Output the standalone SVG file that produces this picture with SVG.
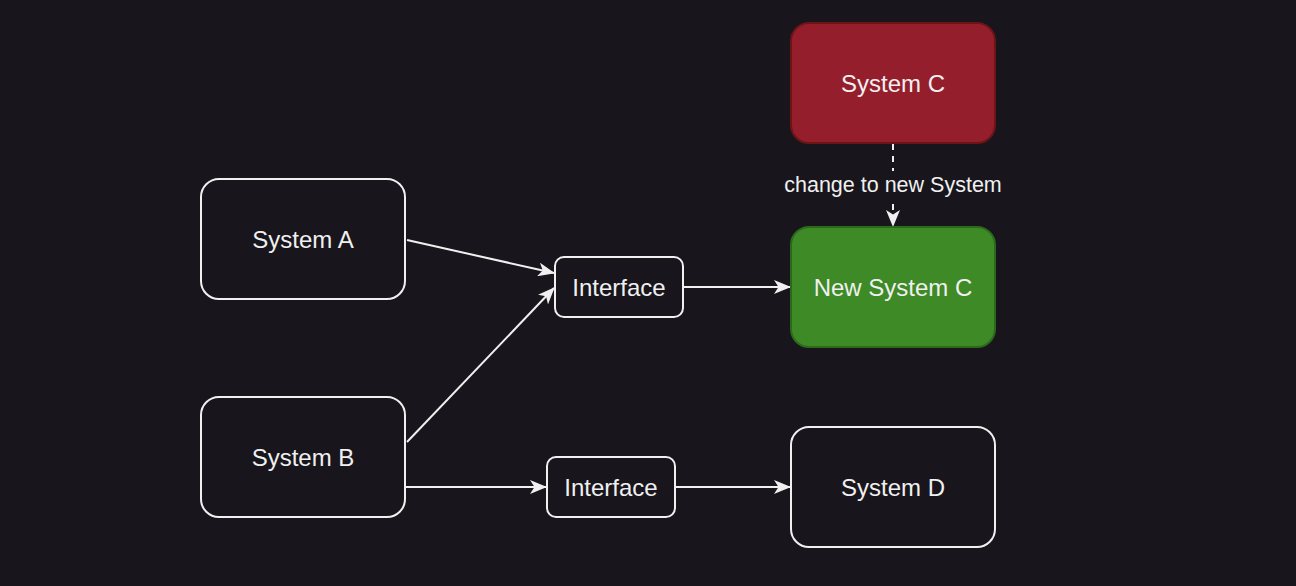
<svg xmlns="http://www.w3.org/2000/svg" width="1296" height="586" viewBox="0 0 1296 586">
<style>
.n rect{stroke-width:2}
.w rect{fill:#18161c;stroke:#f0f0f0}
text{font-family:"Liberation Sans",Arial,sans-serif;font-size:24px;fill:#f0f0f0;text-anchor:middle;dominant-baseline:central}
.e{stroke:#f0f0f0;stroke-width:2;fill:none;marker-end:url(#a)}
.lbl{font-size:21.5px}
</style>
<defs>
<marker id="a" viewBox="0 0 17 14" refX="16" refY="7" markerWidth="17" markerHeight="14" markerUnits="userSpaceOnUse" orient="auto">
<path d="M0,0 L17,7 L0,14 L4.5,7 Z" fill="#f0f0f0"/>
</marker>
</defs>
<rect width="1296" height="586" fill="#18161c"/>
<g id="edges">
<line class="e" x1="407" y1="240" x2="554" y2="273"/>
<line class="e" x1="407" y1="442" x2="554" y2="288"/>
<line class="e" x1="405" y1="487" x2="546" y2="487"/>
<line class="e" x1="683" y1="287" x2="790" y2="287"/>
<line class="e" x1="675" y1="487" x2="790" y2="487"/>
<line class="e" x1="893" y1="144" x2="893" y2="226" stroke-dasharray="6 6"/>
<rect x="778" y="171" width="230" height="28" fill="#18161c"/>
<text class="lbl" x="893" y="185">change to new System</text>
</g>
<g id="systemA" class="n w"><rect x="201" y="179" width="204" height="120" rx="18"/><text x="303" y="239">System A</text></g>
<g id="systemB" class="n w"><rect x="201" y="397" width="204" height="120" rx="18"/><text x="303" y="457">System B</text></g>
<g id="interface1" class="n w"><rect x="555" y="257" width="128" height="60" rx="9"/><text x="619" y="287">Interface</text></g>
<g id="interface2" class="n w"><rect x="547" y="457" width="128" height="60" rx="9"/><text x="611" y="487">Interface</text></g>
<g id="systemC" class="n"><rect x="791" y="23" width="204" height="120" rx="18" fill="#951e2c" stroke="#6e1414"/><text x="893" y="83">System C</text></g>
<g id="newSystemC" class="n"><rect x="791" y="227" width="204" height="120" rx="18" fill="#3d8a26" stroke="#2c6a1b"/><text x="893" y="287">New System C</text></g>
<g id="systemD" class="n w"><rect x="791" y="427" width="204" height="120" rx="18"/><text x="893" y="487">System D</text></g>
</svg>
